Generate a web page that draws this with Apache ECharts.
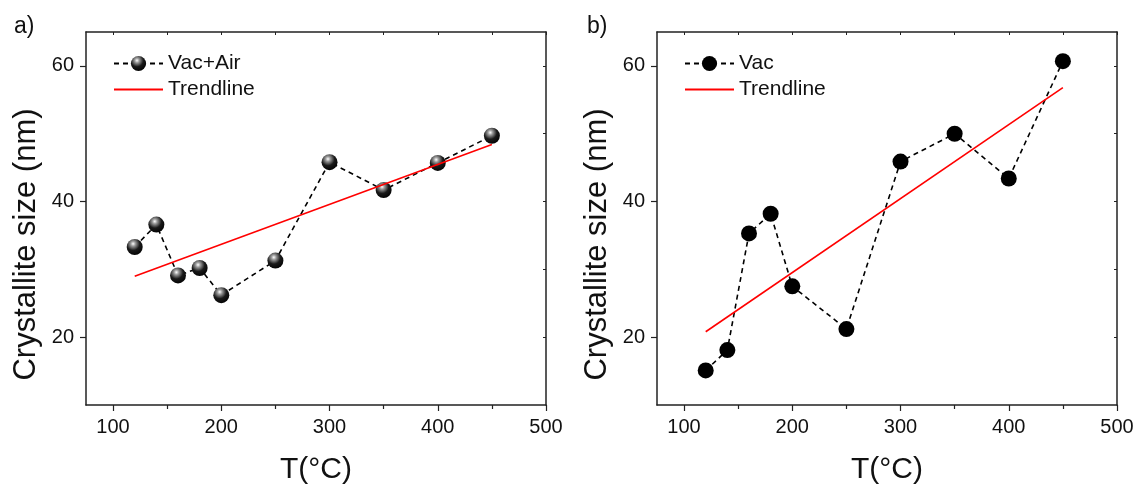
<!DOCTYPE html>
<html>
<head>
<meta charset="utf-8">
<script src="https://cdn.jsdelivr.net/npm/echarts@6/dist/echarts.min.js"></script>
<style>html,body{margin:0;padding:0;background:#fff}#c{width:1135px;height:485px}</style>
</head>
<body>
<div id="c"></div>
<script>
const temps = [120, 140, 160, 180, 200, 250, 300, 350, 400, 450];
const vacAir = [33.3, 36.6, 29.1, 30.2, 26.2, 31.3, 45.8, 41.7, 45.7, 49.7];
const vac = [15.1, 18.1, 35.3, 38.2, 27.5, 21.2, 45.9, 50.0, 43.4, 60.7];
const trendX = [120, 450];
const trendVacAir = [29.0, 48.4];
const trendVac = [20.8, 56.8];
const xTicks = [100, 200, 300, 400, 500];
const xMinor = [150, 250, 350, 450];
const yTicks = [20, 40, 60];
const yAll = [20, 30, 40, 50, 60];
const panelLabels = ['a)', 'b)'];

const pairs = (xs, ys) => xs.map((x, i) => [x, ys[i]]);
const AX = '#222';
const FONT = 'Liberation Sans, Arial, sans-serif';

const grids = [
  {left: 86, right: 589, top: 32, bottom: 80, outerBoundsMode: 'none', containLabel: false},
  {left: 657, right: 18, top: 32, bottom: 80, outerBoundsMode: 'none', containLabel: false}
];

const xAxes = [], yAxes = [];
grids.forEach((g, gi) => {
  const xr = {type: 'value', min: 75, max: 500, gridIndex: gi, splitLine: {show: false}};
  xAxes.push(Object.assign({}, xr, {
    position: 'bottom',
    axisLine: {show: true, onZero: false, lineStyle: {color: AX, width: 1.5}},
    axisTick: {show: true, customValues: xTicks, length: 6, lineStyle: {color: AX, width: 1.2}},
    axisLabel: {customValues: xTicks, fontSize: 20, color: '#111', margin: 12, fontFamily: FONT},
    name: 'T(°C)', nameLocation: 'middle', nameGap: 50,
    nameTextStyle: {fontSize: 30, color: '#111', fontFamily: FONT}
  }));
  xAxes.push(Object.assign({}, xr, {
    position: 'bottom',
    axisLine: {show: false},
    axisTick: {show: true, customValues: xMinor, length: 4, lineStyle: {color: AX, width: 1.2}},
    axisLabel: {show: false}
  }));
  xAxes.push(Object.assign({}, xr, {
    position: 'top',
    axisLine: {show: true, onZero: false, lineStyle: {color: AX, width: 1.5}},
    axisTick: {show: true, inside: true, customValues: xTicks.concat(xMinor), length: 3, lineStyle: {color: AX, width: 1}},
    axisLabel: {show: false}
  }));
  const yr = {type: 'value', min: 10, max: 65, gridIndex: gi, splitLine: {show: false}};
  yAxes.push(Object.assign({}, yr, {
    position: 'left',
    axisLine: {show: true, onZero: false, lineStyle: {color: AX, width: 1.5}},
    axisTick: {show: true, customValues: yTicks, length: 6, lineStyle: {color: AX, width: 1.2}},
    axisLabel: {customValues: yTicks, fontSize: 20, color: '#111', margin: 12, fontFamily: FONT},
    name: 'Crystallite size (nm)', nameLocation: 'middle', nameGap: 44,
    nameTextStyle: {fontSize: 31, color: '#111', fontFamily: FONT, padding: [0, 52, 0, 0]}
  }));
  yAxes.push(Object.assign({}, yr, {
    position: 'right',
    axisLine: {show: true, onZero: false, lineStyle: {color: AX, width: 1.5}},
    axisTick: {show: true, inside: true, customValues: yAll, length: 3, lineStyle: {color: AX, width: 1}},
    axisLabel: {show: false}
  }));
});

const sphere = {
  type: 'radial', x: 0.4, y: 0.3, r: 0.75,
  colorStops: [
    {offset: 0, color: '#ffffff'},
    {offset: 0.2, color: '#9a9a9a'},
    {offset: 0.55, color: '#1a1a1a'},
    {offset: 1, color: '#000000'}
  ]
};

const legendBase = {
  orient: 'vertical', top: 48, itemWidth: 49, itemHeight: 19, itemGap: 5,
  textStyle: {fontSize: 21, color: '#111', fontFamily: FONT, lineHeight: 21}
};
const trendLegend = {name: 'Trendline', itemStyle: {opacity: 0}};

const option = {
  backgroundColor: '#fff',
  animation: false,
  title: panelLabels.map((t, i) => ({
    text: t, left: i === 0 ? 9 : 582, top: 10,
    textStyle: {fontSize: 23, fontWeight: 'normal', color: '#111', fontFamily: FONT}
  })),
  legend: [
    Object.assign({}, legendBase, {left: 108, data: ['Vac+Air', trendLegend]}),
    Object.assign({}, legendBase, {left: 679, data: ['Vac', trendLegend]})
  ],
  grid: grids,
  xAxis: xAxes,
  yAxis: yAxes,
  series: [
    {name: 'Vac+Air', type: 'line', xAxisIndex: 0, yAxisIndex: 0,
     data: pairs(temps, vacAir), symbol: 'circle', symbolSize: 16,
     lineStyle: {color: '#000', width: 1.6, type: [5, 4]},
     itemStyle: {color: sphere, borderWidth: 0}, z: 3},
    {name: 'Trendline', type: 'line', xAxisIndex: 0, yAxisIndex: 0,
     data: pairs(trendX, trendVacAir), symbol: 'none',
     lineStyle: {color: '#ff0000', width: 1.6}, itemStyle: {color: '#ff0000'}, z: 4},
    {name: 'Vac', type: 'line', xAxisIndex: 3, yAxisIndex: 2,
     data: pairs(temps, vac), symbol: 'circle', symbolSize: 16,
     lineStyle: {color: '#000', width: 1.6, type: [5, 4]},
     itemStyle: {color: '#000', borderWidth: 0}, z: 3},
    {name: 'Trendline', type: 'line', xAxisIndex: 3, yAxisIndex: 2,
     data: pairs(trendX, trendVac), symbol: 'none',
     lineStyle: {color: '#ff0000', width: 1.6}, itemStyle: {color: '#ff0000'}, z: 4}
  ]
};

const chart = echarts.init(document.getElementById('c'), null, {renderer: 'canvas'});
chart.setOption(option);
</script>
</body>
</html>
